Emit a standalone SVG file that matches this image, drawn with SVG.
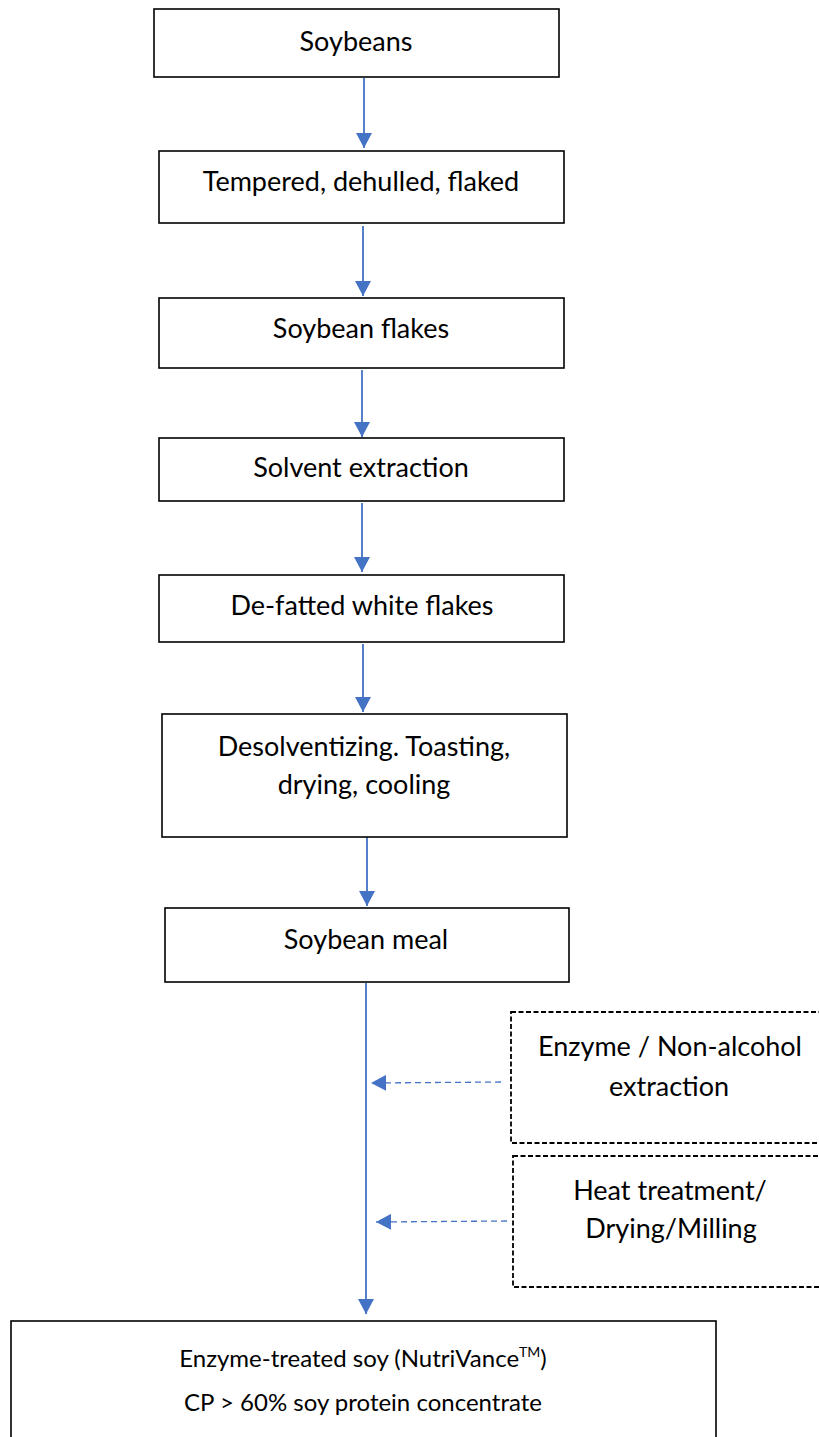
<svg xmlns="http://www.w3.org/2000/svg" width="819" height="1437" viewBox="0 0 819 1437">
  <style>
    .box { fill: #ffffff; stroke: #000000; stroke-width: 1.6; }
    .dbox { fill: #ffffff; stroke: #000000; stroke-width: 1.8; stroke-dasharray: 5 2.5; }
    .lbl { font-family: Lato, "Liberation Sans", sans-serif; font-size: 27px; fill: #000000; text-anchor: middle; }
    .sm { font-size: 24px; }
    .flow { stroke: #4472C4; stroke-width: 1.8; fill: none; }
    .dflow { stroke: #4472C4; stroke-width: 1.3; fill: none; stroke-dasharray: 6 4; }
  </style>
  <defs>
    <marker id="ah" markerUnits="userSpaceOnUse" markerWidth="16" markerHeight="16" viewBox="0 0 16 16" refX="15" refY="8" orient="auto">
      <path d="M0,0 L15,8 L0,16 Z" fill="#4472C4"/>
    </marker>
  </defs>
  <rect width="819" height="1437" fill="#ffffff"/>

  <g id="connectors">
    <line class="flow" x1="364" y1="78" x2="364" y2="148" marker-end="url(#ah)"/>
    <line class="flow" x1="363" y1="226" x2="363" y2="296" marker-end="url(#ah)"/>
    <line class="flow" x1="362" y1="370" x2="362" y2="437" marker-end="url(#ah)"/>
    <line class="flow" x1="362" y1="503" x2="362" y2="572" marker-end="url(#ah)"/>
    <line class="flow" x1="363" y1="644" x2="363" y2="712" marker-end="url(#ah)"/>
    <line class="flow" x1="367" y1="834" x2="367" y2="906" marker-end="url(#ah)"/>
    <line class="flow" x1="366" y1="983" x2="366" y2="1314" marker-end="url(#ah)"/>
    <line class="dflow" x1="501" y1="1082" x2="371" y2="1083" marker-end="url(#ah)"/>
    <line class="dflow" x1="507" y1="1221" x2="376" y2="1222" marker-end="url(#ah)"/>
  </g>

  <g id="n-soybeans">
    <rect class="box" x="154" y="9" width="405" height="68"/>
    <text class="lbl" x="356" y="51">Soybeans</text>
  </g>
  <g id="n-tempered">
    <rect class="box" x="159" y="151" width="405" height="72"/>
    <text class="lbl" x="361" y="191">Tempered, dehulled, flaked</text>
  </g>
  <g id="n-flakes">
    <rect class="box" x="159" y="298" width="405" height="70"/>
    <text class="lbl" x="361" y="338">Soybean flakes</text>
  </g>
  <g id="n-solvent">
    <rect class="box" x="159" y="438" width="405" height="63"/>
    <text class="lbl" x="361" y="477">Solvent extraction</text>
  </g>
  <g id="n-defatted">
    <rect class="box" x="159" y="575" width="405" height="67"/>
    <text class="lbl" x="362" y="615">De-fatted white flakes</text>
  </g>
  <g id="n-desolventizing">
    <rect class="box" x="162" y="714" width="405" height="123"/>
    <text class="lbl" x="364" y="756">Desolventizing. Toasting,</text>
    <text class="lbl" x="364" y="794">drying, cooling</text>
  </g>
  <g id="n-meal">
    <rect class="box" x="165" y="908" width="404" height="74"/>
    <text class="lbl" x="366" y="949">Soybean meal</text>
  </g>
  <g id="n-enzyme">
    <rect class="dbox" x="511" y="1012" width="320" height="131"/>
    <text class="lbl" x="670" y="1056">Enzyme / Non-alcohol</text>
    <text class="lbl" x="669" y="1096">extraction</text>
  </g>
  <g id="n-heat">
    <rect class="dbox" x="513" y="1156" width="320" height="131"/>
    <text class="lbl" x="670" y="1200">Heat treatment/</text>
    <text class="lbl" x="671" y="1238">Drying/Milling</text>
  </g>
  <g id="n-product">
    <rect class="box" x="11" y="1321" width="705" height="130"/>
    <text class="lbl sm" x="363" y="1367">Enzyme-treated soy (NutriVance<tspan font-size="14" dy="-10">TM</tspan><tspan dy="10">)</tspan></text>
    <text class="lbl sm" x="363" y="1411">CP &gt; 60% soy protein concentrate</text>
  </g>
</svg>
